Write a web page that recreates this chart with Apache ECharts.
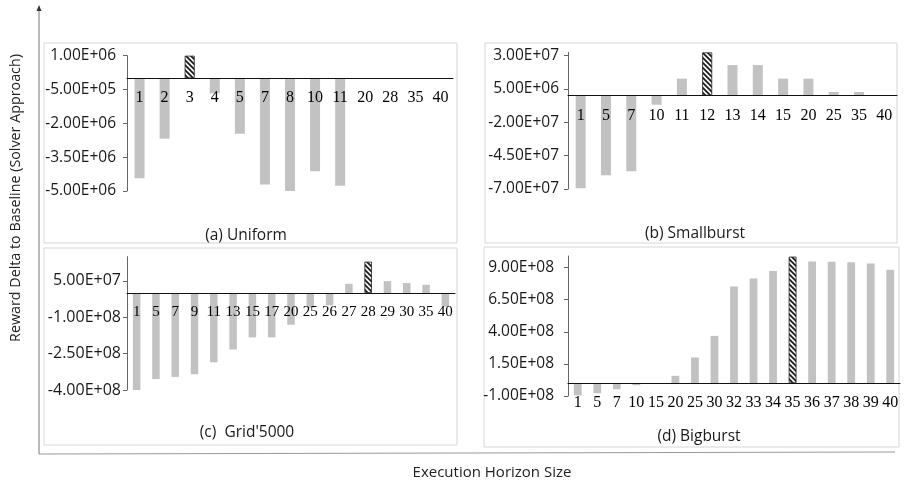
<!DOCTYPE html>
<html>
<head>
<meta charset="UTF-8">
<title>Reward Delta to Baseline</title>
<script type="text/javascript" src="https://cdn.jsdelivr.net/npm/echarts@6.0.0/dist/echarts.min.js"></script>
<style>
  html, body { margin: 0; padding: 0; background: #fff; }
</style>
</head>
<body>
<div id="main" style="width:904px;height:483px"></div>
<script type="text/javascript">
// (a) Uniform
var catsA = ['1', '2', '3', '4', '5', '7', '8', '10', '11', '20', '28', '35', '40'];
var valsA = [-4.44e6, -2.68e6, 1.0e6, -0.67e6, -2.46e6, -4.71e6, -5.0e6, -4.12e6, -4.77e6, 0, 0, 0, 0];
var bestA = '3';
var ticksA = [1e6, -5e5, -2e6, -3.5e6, -5e6];

// (b) Smallburst
var catsB = ['1', '5', '7', '10', '11', '12', '13', '14', '15', '20', '25', '35', '40'];
var valsB = [-6.95e7, -5.97e7, -5.67e7, -6.8e6, 1.28e7, 3.25e7, 2.3e7, 2.3e7, 1.28e7, 1.28e7, 2.8e6, 2.8e6, 0];
var bestB = '12';
var ticksB = [3e7, 5e6, -2e7, -4.5e7, -7e7];

// (c) Grid'5000
var catsC = ['1', '5', '7', '9', '11', '13', '15', '17', '20', '25', '26', '27', '28', '29', '30', '35', '40'];
var valsC = [-4.0e8, -3.55e8, -3.46e8, -3.35e8, -2.86e8, -2.33e8, -1.83e8, -1.83e8, -1.31e8, -0.6e8, -0.51e8,
             0.38e8, 1.29e8, 0.49e8, 0.41e8, 0.34e8, -0.57e8];
var bestC = '28';
var ticksC = [5e7, -1e8, -2.5e8, -4e8];

// (d) Bigburst
var catsD = ['1', '5', '7', '10', '15', '20', '25', '30', '32', '33', '34', '35', '36', '37', '38', '39', '40'];
var valsD = [-0.95e8, -0.78e8, -0.47e8, -0.16e8, -0.02e8, 0.57e8, 2.0e8, 3.68e8, 7.53e8, 8.15e8, 8.73e8,
             9.85e8, 9.47e8, 9.45e8, 9.42e8, 9.32e8, 8.83e8];
var bestD = '35';
var ticksD = [9e8, 6.5e8, 4e8, 1.5e8, -1e8];

var titles = ['(a) Uniform', '(b) Smallburst', "(c)  Grid'5000", '(d) Bigburst'];

function hatch() {
	var c = document.createElement('canvas');
	c.width = 5; c.height = 5;
	var g = c.getContext('2d');
	g.fillStyle = '#f4f4f4';
	g.fillRect(0, 0, 5, 5);
	g.strokeStyle = '#1a1a1a';
	g.lineWidth = 1.7;
	g.beginPath();
	g.moveTo(-1, -1); g.lineTo(6, 6);
	g.moveTo(-1, 4); g.lineTo(2, 7);
	g.moveTo(4, -1); g.lineTo(7, 2);
	g.stroke();
	return c;
}
var hatchImg = hatch();

function sci(v) {
	if (v === 0) return '0.00E+00';
	var s = v.toExponential(2).split('e');
	var e = parseInt(s[1], 10);
	var es = (e < 0 ? '-' : '+') + (Math.abs(e) < 10 ? '0' : '') + Math.abs(e);
	return s[0] + 'E' + es;
}

function barData(cats, vals, best) {
	return vals.map(function (v, i) {
		if (cats[i] === best) {
			return {
				value: v,
				itemStyle: { color: { image: hatchImg, repeat: 'repeat' }, borderColor: '#222', borderWidth: 0.8 }
			};
		}
		return v;
	});
}

var grids = [
	{ left: 127, top: 55.7, width: 326, height: 135.3 },
	{ left: 568, top: 52.4, width: 329, height: 136.6 },
	{ left: 127, top: 256.6, width: 328, height: 133.4 },
	{ left: 568, top: 256, width: 332, height: 140 }
];
var cats = [catsA, catsB, catsC, catsD];
var vals = [valsA, valsB, valsC, valsD];
var bests = [bestA, bestB, bestC, bestD];
var ticks = [ticksA, ticksB, ticksC, ticksD];
var ranges = [[-5e6, 1e6], [-7e7, 3.25e7], [-4e8, 1.5e8], [-1e8, 9.9e8]];
var yFont = [15.5, 15.5, 16, 15.5];
var yMargin = [11, 9, 6, 14];
var xFont = [16, 16, 15, 16];
var barW = [10, 10, 7.5, 7.8];

var xAxes = [], yAxes = [], series = [];
for (var i = 0; i < 4; i++) {
	// the category axis sits on the zero line: shift it up from the grid bottom
	var zeroUp = grids[i].height * (0 - ranges[i][0]) / (ranges[i][1] - ranges[i][0]);
	xAxes.push({
		type: 'category',
		gridIndex: i,
		position: 'bottom',
		offset: -zeroUp,
		z: 5,
		data: cats[i],
		axisLine: { onZero: false, lineStyle: { color: '#111', width: 1 } },
		axisTick: { show: false },
		axisLabel: {
			interval: 0, margin: 12, color: '#000',
			fontFamily: 'Liberation Serif', fontSize: xFont[i]
		},
		splitLine: { show: false }
	});
	yAxes.push({
		type: 'value',
		gridIndex: i,
		min: ranges[i][0],
		max: ranges[i][1],
		axisLine: { show: true, lineStyle: { color: '#666', width: 1 } },
		axisTick: { show: true, inside: false, length: 4, customValues: ticks[i], lineStyle: { color: '#666' } },
		axisLabel: {
			customValues: ticks[i], formatter: sci, margin: yMargin[i],
			color: '#1a1a1a', fontFamily: 'Open Sans', fontSize: yFont[i]
		},
		splitLine: { show: false }
	});
	series.push({
		type: 'bar',
		xAxisIndex: i,
		yAxisIndex: i,
		barWidth: barW[i],
		z: 2,
		itemStyle: { color: '#c2c2c2' },
		data: barData(cats[i], vals[i], bests[i]),
		animation: false
	});
}

var graphics = [
	// panel frames
	{ type: 'rect', shape: { x: 44, y: 43, width: 413, height: 200 }, style: { fill: 'none', stroke: '#d6d6d6', lineWidth: 1 }, z: -1 },
	{ type: 'rect', shape: { x: 485, y: 43, width: 412, height: 200 }, style: { fill: 'none', stroke: '#d6d6d6', lineWidth: 1 }, z: -1 },
	{ type: 'rect', shape: { x: 44, y: 248, width: 413, height: 197 }, style: { fill: 'none', stroke: '#d6d6d6', lineWidth: 1 }, z: -1 },
	{ type: 'rect', shape: { x: 484, y: 247, width: 415, height: 200 }, style: { fill: 'none', stroke: '#d6d6d6', lineWidth: 1 }, z: -1 },
	// outer axes with arrow
	{ type: 'line', shape: { x1: 39, y1: 10, x2: 39, y2: 454 }, style: { stroke: '#8c8c8c', lineWidth: 1.2 } },
	{ type: 'line', shape: { x1: 39, y1: 454, x2: 895, y2: 452 }, style: { stroke: '#9a9a9a', lineWidth: 1.2 } },
	{ type: 'polygon', shape: { points: [[39, 5], [36.5, 11], [41.5, 11]] }, style: { fill: '#333' } },
	// axis titles
	{
		type: 'text', x: 16, y: 198, rotation: Math.PI / 2,
		style: { text: 'Reward Delta to Baseline (Solver Approach)', fill: '#222', font: '14.3px "Open Sans"', align: 'center', verticalAlign: 'middle' }
	},
	{
		type: 'text', x: 492, y: 473,
		style: { text: 'Execution Horizon Size', fill: '#222', font: '15px "Open Sans"', align: 'center', verticalAlign: 'middle' }
	}
];
var titlePos = [[246, 236], [695, 234], [247, 433], [699, 437]];
for (var t = 0; t < 4; t++) {
	graphics.push({
		type: 'text', x: titlePos[t][0], y: titlePos[t][1],
		style: { text: titles[t], fill: '#1a1a1a', font: '15.5px "Open Sans"', align: 'center', verticalAlign: 'middle' }
	});
}

var myChart = echarts.init(document.getElementById('main'));
myChart.setOption({
	animation: false,
	backgroundColor: '#fff',
	grid: grids,
	xAxis: xAxes,
	yAxis: yAxes,
	series: series,
	graphic: graphics
});
</script>
</body>
</html>
